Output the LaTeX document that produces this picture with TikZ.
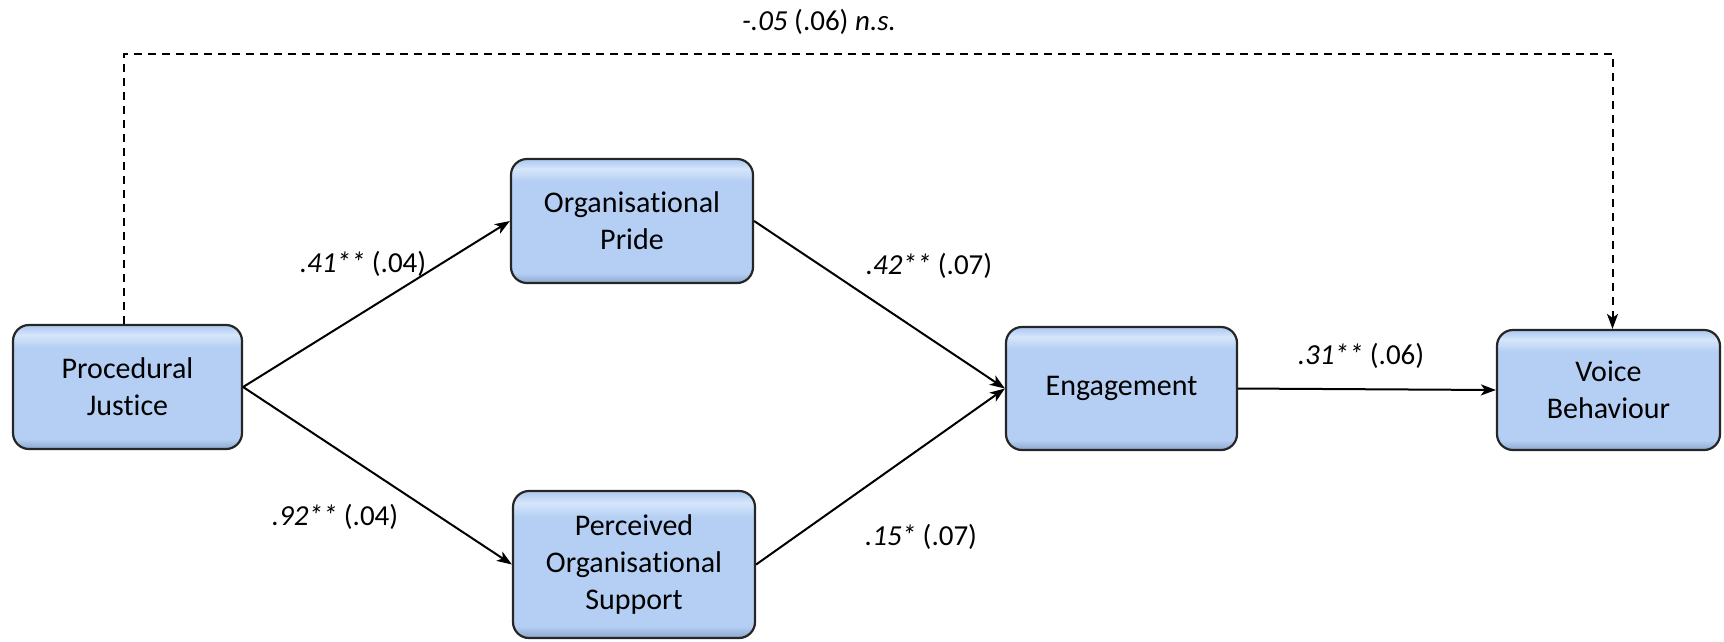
\documentclass[tikz,border=0pt]{standalone}
\usepackage{fontspec}
\setmainfont{Carlito}[Ligatures=NoCommon]
\usetikzlibrary{arrows.meta,positioning}
\definecolor{boxfill}{RGB}{180,207,243}
\definecolor{boxtop}{RGB}{214,230,251}
\definecolor{boxbot}{RGB}{140,165,205}
\pgfdeclareverticalshading{boxshade}{100bp}{color(0bp)=(boxbot); color(25bp)=(boxbot); color(29bp)=(boxfill); color(66bp)=(boxfill); color(71bp)=(boxtop); color(74bp)=(boxfill); color(100bp)=(boxfill)}
\tikzset{
  box/.style={draw=black!85, line width=2.2pt, rounded corners=16pt,
    shading=boxshade,
    align=center, inner sep=0pt,
    font=\fontsize{30}{37}\selectfont},
  conn/.style={line width=2pt, -{Stealth[length=15pt,width=11pt,inset=4pt]}},
  dconn/.style={conn, dash pattern=on 8pt off 6pt},
  lbl/.style={font=\fontsize{29}{33}\selectfont, inner sep=0pt}
}
\begin{document}
\begin{tikzpicture}[x=1pt,y=-1pt]
\useasboundingbox (0,0) rectangle (1724,641);
\node[box, minimum width=229pt, minimum height=124pt] (PJ) at (127.5,387) {Procedural\\Justice};
\node[box, minimum width=242pt, minimum height=124pt] (OP) at (632,221) {Organisational\\Pride};
\node[box, minimum width=242pt, minimum height=147pt] (POS) at (634,564.5) {Perceived\\Organisational\\Support};
\node[box, minimum width=231pt, minimum height=123pt] (EN) at (1121.5,388.5) {Engagement};
\node[box, minimum width=223pt, minimum height=120pt] (VB) at (1608.5,390) {Voice\\Behaviour};

\draw[conn] (PJ.east) -- (OP.west);
\draw[conn] (PJ.east) -- (POS.west);
\draw[conn] (OP.east) -- (EN.west);
\draw[conn] (POS.east) -- (EN.west);
\draw[conn] (EN.east) -- (VB.west);

\coordinate (top) at (800,54);
\draw[dconn] ([xshift=-4pt]PJ.north) |- (top) -| ([xshift=4pt]VB.north);

\node[lbl] (l0) at (819,22) {\textit{-.05} (.06) \textit{n.s.}};
\node[lbl] (l1) at (363,264) {\textit{.41**} (.04)};
\node[lbl] (l2) at (335,517) {\textit{.92**} (.04)};
\node[lbl] (l3) at (929,266) {\textit{.42**} (.07)};
\node[lbl] (l4) at (921,537) {\textit{.15*} (.07)};
\node[lbl] (l5) at (1361,356) {\textit{.31**} (.06)};
\end{tikzpicture}
\end{document}
